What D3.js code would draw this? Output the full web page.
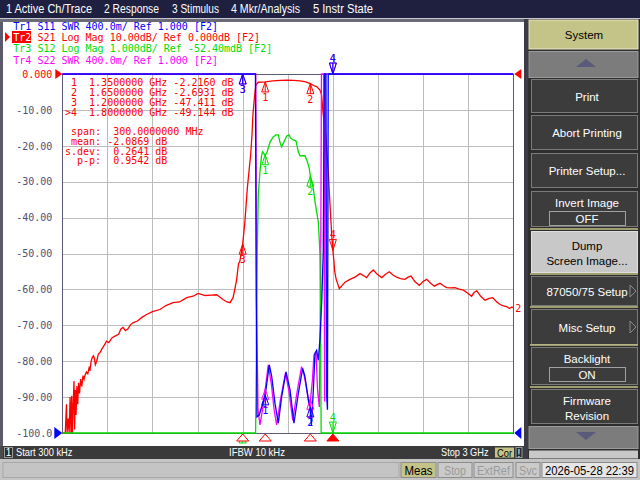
<!DOCTYPE html>
<html><head><meta charset="utf-8">
<script src="https://cdn.jsdelivr.net/npm/d3@7"></script>
<style>
html,body{margin:0;padding:0;background:#4a4a4a;overflow:hidden}
svg{display:block}
.mono{font-family:"DejaVu Sans Mono",monospace;font-size:10px}
.sans{font-family:"Liberation Sans",Arial,sans-serif}
</style></head><body>
<svg id="c" width="640" height="480"></svg>
<script>
// ---------------- DATA ----------------
const menuItems = ["1 Active Ch/Trace","2 Response","3 Stimulus","4 Mkr/Analysis","5 Instr State"];
const traceLegend = [
  "Tr1 S11 SWR 400.0m/ Ref 1.000 [F2]",
  "Tr2 S21 Log Mag 10.00dB/ Ref 0.000dB [F2]",
  "Tr3 S12 Log Mag 1.000dB/ Ref -52.40mdB [F2]",
  "Tr4 S22 SWR 400.0m/ Ref 1.000 [F2]"
];
const freqStart = 0.0003, freqStop = 3.0;            // GHz
const freqGrid = [0.3,0.6,0.9,1.2,1.5,1.8,2.1,2.4,2.7];
const dbTicks = [0,-10,-20,-30,-40,-50,-60,-70,-80,-90,-100];
const dbTickLabels = ["0.000","-10.00","-20.00","-30.00","-40.00","-50.00","-60.00","-70.00","-80.00","-90.00","-100.0"];
const markerFreqs = [1.35, 1.65, 1.2, 1.8];
const markerReadout = [
  " 1  1.3500000 GHz -2.2160 dB",
  " 2  1.6500000 GHz -2.6931 dB",
  " 3  1.2000000 GHz -47.411 dB",
  ">4  1.8000000 GHz -49.144 dB"
];
const statsReadout = [" span:  300.0000000 MHz"," mean: -2.0869 dB","s.dev:  0.2641 dB","  p-p:  0.9542 dB"];

// Tr2 S21 log mag (GHz, dB)
const s21 = [[0.0003,-105],[0.010,-104],[0.020,-100],[0.028,-92],[0.032,-101],[0.040,-96],[0.046,-101],[0.052,-90],[0.058,-101],[0.063,-89.6],[0.067,-101],[0.072,-93],[0.078,-85.5],[0.082,-99],[0.087,-88],[0.092,-95],[0.097,-87],[0.103,-92],[0.108,-86],[0.115,-89],[0.122,-85],[0.130,-87],[0.138,-84],[0.145,-85],[0.151,-84],[0.160,-83],[0.170,-83.5],[0.180,-81.5],[0.184,-82.7],[0.192,-80],[0.200,-79],[0.207,-78.5],[0.213,-79],[0.220,-81],[0.229,-80],[0.240,-78],[0.251,-77.6],[0.265,-76.5],[0.280,-75.5],[0.295,-74.4],[0.310,-74.8],[0.330,-73.5],[0.351,-73],[0.375,-72.5],[0.390,-71],[0.404,-70.6],[0.420,-71.5],[0.437,-71],[0.455,-69.8],[0.470,-69.3],[0.500,-68.8],[0.530,-67.8],[0.561,-67],[0.600,-66.2],[0.650,-65.6],[0.690,-64.5],[0.736,-63.7],[0.780,-63.5],[0.828,-62.3],[0.870,-61.9],[0.903,-61.1],[0.925,-61.4],[0.950,-61.7],[0.990,-61.6],[1.027,-61.5],[1.050,-62.2],[1.069,-62.8],[1.095,-63.5],[1.116,-63.7],[1.136,-62.3],[1.150,-59.5],[1.160,-57.2],[1.172,-53],[1.182,-52],[1.192,-49.5],[1.200,-47.4],[1.215,-41],[1.231,-31.8],[1.253,-22.5],[1.262,-17],[1.268,-11.4],[1.280,-5.8],[1.288,-3],[1.305,-2.3],[1.350,-2.216],[1.402,-1.9],[1.450,-1.8],[1.493,-1.7],[1.540,-1.8],[1.581,-1.9],[1.620,-2.2],[1.650,-2.69],[1.672,-3.2],[1.692,-3.5],[1.714,-4.5],[1.725,-5.8],[1.734,-10.5],[1.754,-17.8],[1.769,-27],[1.781,-36.4],[1.792,-44.7],[1.800,-49.14],[1.806,-51.7],[1.812,-55],[1.822,-57.2],[1.843,-59.8],[1.859,-59],[1.880,-58],[1.914,-57.2],[1.950,-56.5],[1.981,-55.6],[2.005,-56.2],[2.025,-56.7],[2.045,-55.5],[2.069,-54.6],[2.095,-55.8],[2.125,-56.7],[2.150,-55.8],[2.175,-55.1],[2.200,-56.0],[2.224,-56.6],[2.250,-57.0],[2.280,-57.2],[2.300,-56.6],[2.320,-56.3],[2.345,-57.8],[2.375,-58.9],[2.400,-57.8],[2.424,-57.2],[2.450,-58.3],[2.475,-59.1],[2.495,-58.6],[2.513,-58.3],[2.535,-59.0],[2.557,-59.5],[2.585,-59.6],[2.612,-59.5],[2.640,-59.9],[2.668,-60.2],[2.695,-61.0],[2.723,-61.9],[2.740,-60.8],[2.757,-60.4],[2.785,-62],[2.812,-63],[2.840,-62.5],[2.863,-62.3],[2.890,-63.5],[2.912,-64.2],[2.935,-64.6],[2.956,-64.8],[2.975,-65.3],[2.990,-64.9],[3.0,-65.1]];

// Tr3 S12 log mag (GHz, dB), 1 dB/div, ref -52.40 mdB at top
const s12 = [[0.0003,-40],[1.286,-40],[1.291,-8],[1.297,-5.0],[1.304,-3.4],[1.315,-2.77],[1.326,-2.31],[1.333,-2.22],[1.348,-2.31],[1.360,-2.26],[1.382,-1.95],[1.404,-1.80],[1.422,-1.75],[1.437,-1.75],[1.448,-1.95],[1.459,-2.08],[1.475,-1.94],[1.493,-1.78],[1.508,-1.75],[1.519,-1.84],[1.537,-1.89],[1.555,-1.92],[1.570,-2.22],[1.581,-2.33],[1.614,-2.33],[1.630,-2.49],[1.643,-2.68],[1.652,-2.96],[1.670,-3.24],[1.681,-3.61],[1.692,-3.89],[1.703,-4.17],[1.710,-4.72],[1.714,-5.09],[1.718,-7.18],[1.722,-40],[3.0,-40]];

// Tr1 S11 SWR
const s11 = [[0.0003,20],[1.285,20],[1.2906,2.48],[1.295,1.18],[1.310,1.20],[1.326,1.29],[1.348,1.40],[1.377,1.76],[1.393,1.63],[1.415,1.33],[1.437,1.11],[1.459,1.40],[1.488,1.68],[1.515,1.48],[1.541,1.11],[1.570,1.44],[1.599,1.72],[1.614,1.63],[1.640,1.33],[1.650,1.29],[1.657,1.08],[1.670,1.48],[1.681,1.89],[1.692,1.92],[1.703,1.81],[1.714,2.04],[1.726,2.48],[1.736,3.01],[1.743,20],[1.754,20],[1.759,1.40],[1.764,1.26],[1.769,20],[3.0,20]];

// Tr4 S22 SWR
const s22 = [[0.0003,20],[1.287,20],[1.292,2.48],[1.302,1.26],[1.315,1.09],[1.332,1.26],[1.348,1.46],[1.370,1.76],[1.392,1.53],[1.409,1.26],[1.426,1.09],[1.451,1.37],[1.485,1.67],[1.508,1.46],[1.533,1.14],[1.561,1.45],[1.592,1.74],[1.608,1.65],[1.630,1.45],[1.644,1.31],[1.654,1.42],[1.664,1.59],[1.674,1.87],[1.688,1.89],[1.698,1.48],[1.710,1.29],[1.718,2.48],[1.724,20],[1.740,20],[1.745,1.35],[1.750,20],[3.0,20]];

const statusTexts = ["Start 300 kHz","IFBW 10 kHz","Stop 3 GHz"];
const bottomButtons = ["Meas","Stop","ExtRef","Svc","2026-05-28 22:39"];
const softkeys = ["Print","Abort Printing","Printer Setup...","Invert Image","Dump|Screen Image...","87050/75 Setup","Misc Setup","Backlight","Firmware|Revision"];

// ---------------- LAYOUT ----------------
const PL = 62.3, PR = 513.3, PT = 74, PB = 433;
const C = {red:"#ff0000", blue:"#0000ff", green:"#00dd00", mag:"#ff00ff", grid:"#bcbcbc", axisText:"#505070", frame:"#5a5a78"};

const svg = d3.select("#c");
const x = d3.scaleLinear().domain([freqStart, freqStop]).range([PL, PR]);
const yDb = d3.scaleLinear().domain([-100, 0]).range([PB, PT]).clamp(true);
const yS12 = d3.scaleLinear().domain([-10.0524, -0.0524]).range([PB, PT]).clamp(true);
const ySwr = d3.scaleLinear().domain([1, 5]).range([PB, PT]).clamp(true);

// background pieces
svg.append("rect").attr("x",0).attr("y",0).attr("width",640).attr("height",480).attr("fill","#4a4a4a");
svg.append("rect").attr("x",0).attr("y",0).attr("width",640).attr("height",18).attr("fill","#1f2040");
svg.append("rect").attr("x",0).attr("y",18).attr("width",528).attr("height",4).attr("fill","#6c6c78");
svg.append("line").attr("x1",0).attr("x2",640).attr("y1",18.5).attr("y2",18.5).attr("stroke","#c8c8d0");
svg.append("rect").attr("x",0).attr("y",22).attr("width",3).attr("height",424).attr("fill","#5a5a6a");
svg.append("rect").attr("x",3).attr("y",22).attr("width",522).attr("height",424).attr("fill","#ffffff");

// menu bar
const menuX = [6,104,172,231,313], menuW = [86,55,47,69,60];
svg.selectAll("text.menu").data(menuItems).enter().append("text").attr("class","sans")
  .attr("x",(d,i)=>menuX[i]).attr("y",13).attr("fill","#ffffff").attr("font-size",12)
  .attr("textLength",(d,i)=>menuW[i]).attr("lengthAdjust","spacingAndGlyphs").text(d=>d);

// grid via axes
const gx = svg.append("g").attr("transform",`translate(0,${PB})`)
  .call(d3.axisBottom(x).tickValues(freqGrid).tickSize(-(PB-PT)).tickFormat(""));
gx.select(".domain").remove();
gx.selectAll("line").attr("stroke",C.grid).attr("shape-rendering","crispEdges");
const gy = svg.append("g").attr("transform",`translate(${PL},0)`)
  .call(d3.axisLeft(yDb).tickValues(dbTicks).tickSize(-(PR-PL)).tickPadding(10)
  .tickFormat((d)=>dbTickLabels[dbTicks.indexOf(d)]));
gy.select(".domain").remove();
gy.selectAll("line").attr("stroke",C.grid).attr("shape-rendering","crispEdges");
gy.selectAll("text").attr("class","mono").attr("font-size",10).attr("fill",(d)=>d===0?C.red:C.axisText)
  .attr("font-family","DejaVu Sans Mono");
// frame
svg.append("rect").attr("x",PL).attr("y",PT).attr("width",PR-PL).attr("height",PB-PT)
  .attr("fill","none").attr("stroke",C.frame).attr("stroke-width",1).attr("shape-rendering","crispEdges");

// traces
const line = (ys)=>d3.line().x(d=>x(d[0])).y(d=>ys(d[1]));
const traces = [
  {data:s21, y:yDb, c:C.red},
  {data:s22, y:ySwr, c:C.mag},
  {data:s12, y:yS12, c:C.green},
  {data:s11, y:ySwr, c:C.blue}
];
traces.forEach(t=>{
  svg.append("path").datum(t.data).attr("d",line(t.y)).attr("fill","none")
    .attr("stroke",t.c).attr("stroke-width",1.3).attr("stroke-linejoin","miter");
});

// interpolation helper
function interp(data,f){
  const i = d3.bisector(d=>d[0]).left(data,f);
  if(i<=0) return data[0][1];
  if(i>=data.length) return data[data.length-1][1];
  const a=data[i-1], b=data[i];
  return a[1]+(f-a[0])/(b[0]-a[0])*(b[1]-a[1]);
}
// markers
function marker(px,py,color,num,active){
  const g = svg.append("g");
  if(active){
    g.append("path").attr("d",`M${px-3.5},${py-11}L${px+3.5},${py-11}L${px},${py}ZM${px},${py-11}V${py}`)
      .attr("fill","none").attr("stroke",color).attr("stroke-width",1);
    g.append("text").attr("class","mono").attr("x",px).attr("y",py-12.5).attr("text-anchor","middle")
      .attr("fill",color).attr("font-size",10).text(num);
  } else {
    g.append("path").attr("d",`M${px},${py}L${px-3.5},${py+10}L${px+3.5},${py+10}ZM${px},${py}V${py+10}`)
      .attr("fill","none").attr("stroke",color).attr("stroke-width",1);
    if(py+19 < PB+8)
      g.append("text").attr("class","mono").attr("x",px).attr("y",py+19).attr("text-anchor","middle")
        .attr("fill",color).attr("font-size",10).text(num);
  }
}
const markerOrder = [traces[1],traces[2],traces[3],traces[0]];
markerOrder.forEach(t=>{
  markerFreqs.forEach((f,i)=>{
    marker(x(f), t.y(interp(t.data,f)), t.c, String(i+1), i===3);
  });
});

// stimulus triangles below grid (active trace)
markerFreqs.forEach((f,i)=>{
  const px=x(f);
  svg.append("path").attr("d",`M${px},${PB+1}L${px-6},${PB+8}L${px+6},${PB+8}Z`)
    .attr("fill",i===3?C.red:"#ffffff").attr("stroke",C.red).attr("stroke-width",1);
});

// reference arrows
svg.append("path").attr("d",`M${PL-7},${PT-5}L${PL-7},${PT+5}L${PL},${PT}Z`).attr("fill",C.red);
svg.append("path").attr("d",`M${PR+8},${PT-5}L${PR+8},${PT+5}L${PR+1},${PT}Z`).attr("fill",C.red);
svg.append("path").attr("d",`M${PL-8},${PB-6}L${PL-8},${PB+6}L${PL},${PB}Z`).attr("fill",C.blue);
svg.append("path").attr("d",`M${PR+8},${PB-6}L${PR+8},${PB+6}L${PR+1},${PB}Z`).attr("fill",C.blue);
// trace end label
svg.append("text").attr("class","mono").attr("x",PR+2).attr("y",yDb(s21[s21.length-1][1])+4)
  .attr("fill",C.red).attr("font-size",10).text("2");

// trace legend
const legColors=[C.blue,C.red,C.green,C.mag];
svg.append("rect").attr("x",12).attr("y",31).attr("width",19).attr("height",12).attr("fill",C.red);
svg.append("path").attr("d","M5,32L5,42L10,37Z").attr("fill",C.red);
traceLegend.forEach((s,i)=>{
  const t = svg.append("text").attr("class","mono").attr("x",13.3).attr("y",30+i*11.2)
    .attr("fill",legColors[i]).style("white-space","pre");
  if(i===1){
    t.append("tspan").attr("fill","#ffffff").text(s.slice(0,3));
    t.append("tspan").text(s.slice(3));
  } else t.text(s);
});

// marker readout
markerReadout.forEach((s,i)=>{
  svg.append("text").attr("class","mono").attr("x",65).attr("y",85.5+i*10).attr("fill",C.red)
    .style("white-space","pre").text(s);
});
statsReadout.forEach((s,i)=>{
  svg.append("text").attr("class","mono").attr("x",65).attr("y",135+i*9.8).attr("fill",C.red)
    .style("white-space","pre").text(s);
});

// status bar
svg.append("rect").attr("x",3).attr("y",446).attr("width",522).attr("height",13).attr("fill","#3a3a3a");
svg.append("rect").attr("x",4.5).attr("y",447.5).attr("width",8).attr("height",10).attr("fill","#2a2a2a").attr("stroke","#9a9a9a");
svg.append("text").attr("class","sans").attr("x",8.5).attr("y",456).attr("text-anchor","middle").attr("fill","#fff").attr("font-size",10).text("1");
const stX=[16,229,441], stW=[56.5,56,47.5];
statusTexts.forEach((s,i)=>{
  svg.append("text").attr("class","sans").attr("x",stX[i]).attr("y",456).attr("fill","#ffffff")
    .attr("font-size",11).attr("textLength",stW[i]).attr("lengthAdjust","spacingAndGlyphs").text(s);
});
svg.append("rect").attr("x",495).attr("y",447.5).attr("width",19).attr("height",10).attr("fill","#c4c488");
svg.append("text").attr("class","sans").attr("x",497).attr("y",456.5).attr("font-size",10)
  .attr("textLength",15).attr("lengthAdjust","spacingAndGlyphs").attr("fill","#000").text("Cor");
svg.append("rect").attr("x",516).attr("y",447.5).attr("width",6).attr("height",10).attr("fill","#2a2a2a").attr("stroke","#9a9a9a");
svg.append("text").attr("class","sans").attr("x",519).attr("y",456.5).attr("text-anchor","middle").attr("font-size",10).attr("fill","#fff").text("!");

// bottom strip
svg.append("rect").attr("x",0).attr("y",459).attr("width",640).attr("height",21).attr("fill","#c4c4c4");
svg.append("rect").attr("x",3).attr("y",462.5).attr("width",396).attr("height",15).attr("fill","none").attr("stroke","#a8a8a8");
const bbX=[401,438,474,516,542], bbW=[35,34,39,24,95], bbTW=[28,22,33,18,89];
const bbFill=["#c4c488","#cacaca","#cacaca","#cacaca","#e6e6e6"], bbText=["#000","#9a9a9a","#9a9a9a","#9a9a9a","#000"];
bottomButtons.forEach((s,i)=>{
  svg.append("rect").attr("x",bbX[i]).attr("y",462.5).attr("width",bbW[i]).attr("height",15)
    .attr("fill",bbFill[i]).attr("stroke","#8c8c8c");
  svg.append("text").attr("class","sans").attr("x",bbX[i]+bbW[i]/2).attr("y",474.5).attr("text-anchor","middle")
    .attr("font-size",12).attr("fill",bbText[i]).attr("textLength",bbTW[i]).attr("lengthAdjust","spacingAndGlyphs").text(s);
});

// softkey panel
svg.append("rect").attr("x",524).attr("y",19).attr("width",116).attr("height",440).attr("fill","#2e2e2e");
svg.append("rect").attr("x",524).attr("y",19).attr("width",4).attr("height",440).attr("fill","#3c3c48");
svg.append("rect").attr("x",529).attr("y",20).attr("width",109).attr("height",29).attr("fill","#c4c488").attr("stroke","#e8e8c8");
svg.append("text").attr("class","sans").attr("x",584).attr("y",39).attr("text-anchor","middle").attr("font-size",11.5).attr("fill","#000").text("System");
// arrow buttons
svg.append("rect").attr("x",529).attr("y",51.5).attr("width",109).attr("height",26).attr("fill","#7c7c7c").attr("stroke","#9a9a9a");
svg.append("path").attr("d","M576,67L596,67L586,59Z").attr("fill","#5a5a7a");
svg.append("rect").attr("x",529).attr("y",426.5).attr("width",109).attr("height",22).attr("fill","#7c7c7c").attr("stroke","#9a9a9a");
svg.append("path").attr("d","M576,432L596,432L586,440Z").attr("fill","#5a5a7a");
svg.append("rect").attr("x",529).attr("y",450.5).attr("width",109).attr("height",8).attr("fill","#c8c8c8");

const skY=[79,115,153,191,231,276,309,347,389], skH=[34,35,35,36,42,30,36,38,35];
softkeys.forEach((s,i)=>{
  const light = i===4;
  svg.append("rect").attr("x",531.5).attr("y",skY[i]+0.5).attr("width",106).attr("height",skH[i]-1)
    .attr("fill",light?"#c8c8c8":"#3c3c3c").attr("stroke",light?"#e0e0e0":"#7a7a7a");
  const parts=s.split("|");
  const hasBox = (i===3||i===7);
  parts.forEach((p,j)=>{
    let ty;
    if(parts.length===2) ty = skY[i]+skH[i]/2-2+j*15;
    else if(hasBox) ty = skY[i]+16;
    else ty = skY[i]+skH[i]/2+4.5;
    svg.append("text").attr("class","sans").attr("x",587).attr("y",ty).attr("text-anchor","middle")
      .attr("font-size",11.5).attr("fill",light?"#000":"#ffffff").text(p);
  });
  if(hasBox){
    svg.append("rect").attr("x",549.5).attr("y",skY[i]+20.5).attr("width",76).attr("height",14)
      .attr("fill","#3c3c3c").attr("stroke","#a0a0a0");
    svg.append("text").attr("class","sans").attr("x",587).attr("y",skY[i]+32).attr("text-anchor","middle")
      .attr("font-size",11.5).attr("fill","#fff").text(i===3?"OFF":"ON");
  }
  if(i===5||i===6){
    svg.append("path").attr("d",`M630,${skY[i]+skH[i]/2-6}L630,${skY[i]+skH[i]/2+6}L636,${skY[i]+skH[i]/2}Z`)
      .attr("fill","none").attr("stroke","#8a8a8a");
  }
});
// olive separators
[229,274,307,345,387].forEach(yy=>{
  svg.append("line").attr("x1",530).attr("x2",638).attr("y1",yy).attr("y2",yy).attr("stroke","#c4c488").attr("stroke-width",1.5);
});
</script></body></html>
